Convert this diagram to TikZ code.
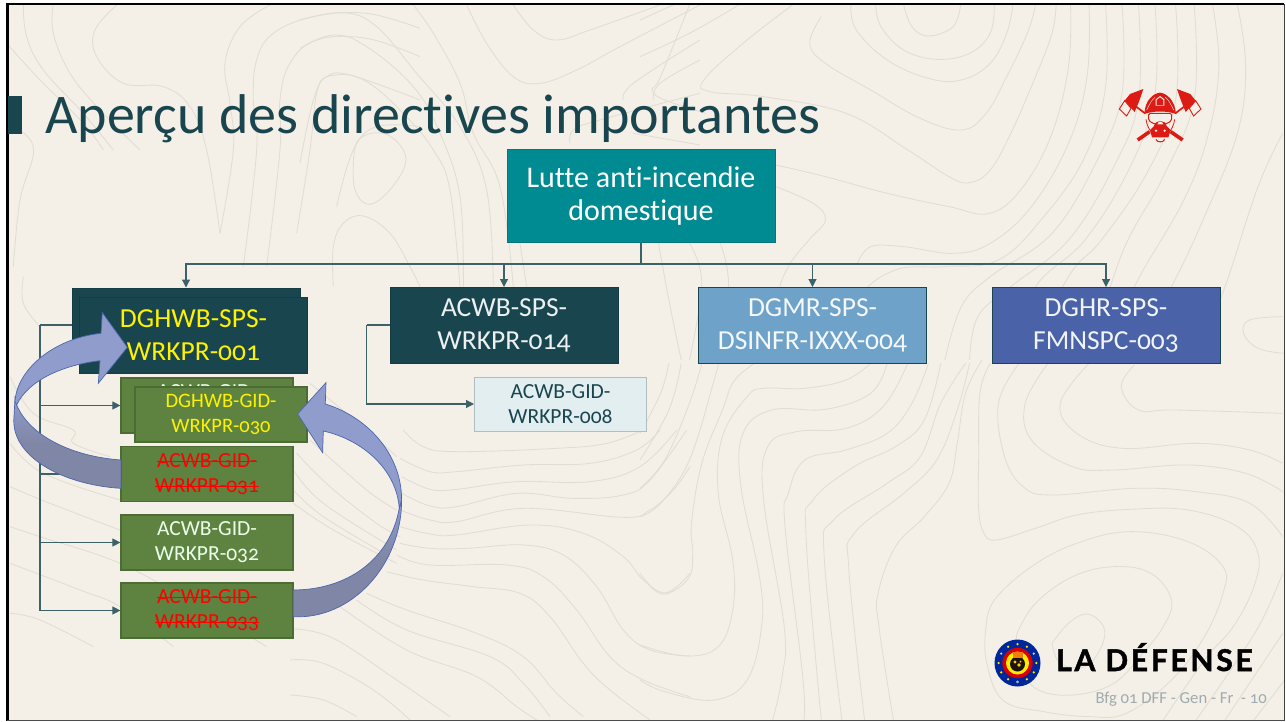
\documentclass[tikz,border=0pt]{standalone}
\usepackage{fontspec}
\setmainfont[Numbers=OldStyle,Ligatures=NoCommon]{Carlito}
\newfontfamily\defensefont[LetterSpace=9,BoldFeatures={FakeBold=1.6}]{Lato}
\usetikzlibrary{arrows.meta,shapes.geometric}
\definecolor{pagebg}{HTML}{F4F0E8}
\definecolor{topo}{HTML}{E0DDD5}
\definecolor{ink}{HTML}{19454F}
\definecolor{tealbox}{HTML}{008A92}
\definecolor{greenbox}{HTML}{5E8340}
\definecolor{greenline}{HTML}{4B6C34}
\definecolor{skybox}{HTML}{6FA2C8}
\definecolor{indigobox}{HTML}{4A62A8}
\definecolor{palebox}{HTML}{E3EEF0}
\definecolor{ribbonlight}{HTML}{8F9CCC}
\definecolor{ribbondark}{HTML}{8086A6}
\definecolor{ribbonline}{HTML}{4C66AE}
\definecolor{alarm}{HTML}{DC1C14}
\tikzset{
  contour/.style={draw=topo,line width=.85pt},
  conn/.style={draw=ink!85!white,line width=1.1pt},
  arrowed/.style={conn,-{Triangle[length=8pt,width=8pt]}},
  bigbox/.style={draw=ink,line width=1pt,minimum width=228pt,minimum height=76pt,inner sep=0pt,align=center,
     font=\fontsize{27.5}{33}\selectfont},
  darkbox/.style={bigbox,fill=ink,draw=ink!85!black,text=white!92!ink},
  smallbox/.style={draw=greenline,line width=1.2pt,fill=greenbox,minimum width=172pt,minimum height=55pt,inner sep=0pt,
     align=center,text=white!92!green,font=\fontsize{21.5}{25}\selectfont},
  ribbonup/.style={draw=ribbonline,line width=.7pt,fill=ribbonlight},
  ribbondown/.style={draw=ribbonline,line width=.7pt,top color=ribbonlight,bottom color=ribbondark,middle color=ribbondark}
}
\newcommand{\ct}[1]{\draw[contour] plot[smooth,tension=.65] coordinates {#1};}
\newsavebox{\strikebox}
\newcommand{\strike}[1]{\textcolor{red}{\sbox{\strikebox}{#1}\rlap{\raisebox{.26em}{\rule{\wd\strikebox}{.9pt}}}\usebox{\strikebox}}}
\begin{document}
\begin{tikzpicture}[x=1pt,y=-1pt]
\useasboundingbox (0,0) rectangle (1286,721);
\fill[white] (0,0) rectangle (1286,721);
\fill[pagebg] (7,4) rectangle (1284,720);
\begin{scope}
\clip (7,4) rectangle (1284,720);
% --- upper right
\begin{scope}[shift={(640,0)},xscale=.412,yscale=.3333]
\ct{(640,15)(660,80)(700,108)(760,80)(778,15)}
\ct{(572,15)(585,80)(640,150)(720,178)(800,160)(850,100)(860,15)}
\ct{(512,15)(525,90)(600,180)(700,235)(780,240)(850,190)(890,100)(905,15)}
\ct{(440,50)(412,130)(450,190)(560,270)(680,355)(780,390)(840,340)(890,230)(940,100)(960,15)}
\ct{(370,15)(250,130)(155,240)(170,275)(300,290)(500,340)(650,450)(750,530)(800,548)(850,510)(900,400)(960,230)(1000,100)(1010,15)}
\ct{(120,15)(50,230)(30,270)(60,300)(160,340)}
\ct{(330,495)(450,530)(600,580)(750,620)(850,640)(930,560)(1000,400)(1040,200)(1045,15)}
\ct{(330,560)(420,610)(450,660)(410,720)(360,800)(335,900)(345,1080)}
\ct{(528,790)(560,740)(640,740)(760,760)(850,730)(950,620)(1040,430)(1085,230)(1090,15)}
\ct{(500,1080)(530,900)(620,810)(740,800)(870,780)(980,650)(1080,470)(1130,260)(1130,15)}
\ct{(740,1080)(780,920)(850,830)(1000,700)(1110,480)(1170,280)(1170,15)}
\ct{(800,1080)(820,950)(900,860)(1040,720)(1150,500)(1210,300)(1210,15)}
\ct{(1250,15)(1250,280)(1190,500)(1080,720)(960,860)(880,1080)}
\ct{(1300,15)(1300,300)(1230,520)(1120,720)(1040,830)(940,1080)}
\ct{(1345,15)(1345,300)(1270,530)(1170,760)(1090,1080)}
\ct{(1390,15)(1405,200)(1380,400)(1320,600)(1200,860)(1130,1080)}
\ct{(1450,15)(1470,200)(1450,400)(1370,650)(1290,860)(1190,1080)}
\ct{(1560,400)(1500,560)(1420,860)(1350,1080)}
\ct{(1560,950)(1480,960)(1465,1000)(1500,1045)(1562,1060)}
\ct{(0,170)(120,100)(240,15)}
\ct{(0,60)(80,15)}
\ct{(45,730)(70,900)(100,1080)}
\ct{(120,730)(150,850)(120,1080)}
\ct{(195,730)(215,860)(190,1080)}
\end{scope}
% --- lower right
\begin{scope}[shift={(640,360)},xscale=.412,yscale=.3333]
\ct{(1000,850)(1040,790)(1085,762)(1125,800)(1120,860)(1080,920)(1020,910)(1000,850)}
\ct{(915,820)(960,730)(1050,650)(1150,620)(1240,640)(1290,720)(1270,800)(1220,880)(1150,970)(1050,1005)(960,985)(915,900)(915,820)}
\ct{(840,800)(860,720)(950,620)(1060,550)(1190,515)(1330,545)(1415,620)(1415,700)(1370,830)(1290,960)(1180,1060)(1090,1070)(980,1055)(880,1020)(840,900)(840,800)}
\ct{(1200,15)(1168,80)(1210,150)(1300,150)(1560,160)}
\ct{(1090,10)(1020,130)(1060,220)(1170,265)(1350,250)(1480,270)(1560,310)}
\ct{(990,10)(935,130)(950,240)(1050,320)(1150,330)(1330,315)(1470,340)(1560,395)}
\ct{(920,10)(870,130)(885,290)(930,380)(1000,405)(1200,385)(1350,395)(1480,430)(1560,530)}
\ct{(850,10)(825,100)(822,300)(822,450)(835,520)(865,540)(960,505)(1060,465)(1190,448)(1330,450)(1450,500)(1500,580)(1490,680)(1440,800)(1370,900)(1270,1080)}
\ct{(1560,640)(1510,780)(1450,900)(1350,1080)}
\ct{(1560,820)(1490,950)(1420,1080)}
\ct{(1565,960)(1490,1080)}
\ct{(0,640)(40,695)(75,697)(120,650)(128,580)(125,490)(150,310)(200,150)(230,60)(290,0)}
\ct{(0,855)(110,888)(190,860)(225,750)(225,600)(190,400)(200,230)(260,110)(300,85)(400,85)(500,60)(560,10)}
\ct{(0,960)(60,995)(180,1020)(260,960)(295,800)(290,650)(245,380)(250,220)(320,150)(450,148)(560,100)(600,10)}
\ct{(322,1080)(345,950)(350,800)(300,420)(310,260)(380,215)(500,205)(590,140)(650,10)}
\ct{(398,1080)(395,950)(352,500)(360,400)(400,300)(500,270)(600,220)(660,130)(700,10)}
\ct{(440,1080)(403,530)(420,420)(520,320)(620,260)(690,180)(730,10)}
\ct{(490,1080)(447,590)(470,480)(600,370)(680,290)(730,130)(790,10)}
\ct{(545,1080)(507,630)(520,520)(640,400)(720,300)(770,150)(800,10)}
\ct{(615,1080)(580,800)(578,700)(620,560)(690,470)(750,370)(770,250)(790,100)(830,0)}
\ct{(0,470)(50,430)(120,300)(180,60)(190,10)}
\ct{(0,385)(60,300)(120,130)(150,10)}
\ct{(0,300)(70,150)(100,10)}
\ct{(0,220)(50,100)(70,10)}
\end{scope}
% --- lower middle
\begin{scope}[shift={(290,430)},scale=.3333]
\ct{(340,0)(400,50)(500,65)(800,55)(950,40)(1060,0)}
\ct{(330,85)(420,125)(500,125)(700,105)(900,100)(1040,60)(1110,0)}
\ct{(335,140)(420,178)(500,178)(680,155)(900,155)(1050,110)(1160,0)}
\ct{(335,190)(420,228)(500,230)(680,190)(850,205)(1000,195)(1080,150)(1190,0)}
\ct{(330,240)(420,270)(500,275)(700,235)(1000,262)(1080,240)(1150,180)(1200,110)}
\ct{(330,290)(420,312)(500,315)(720,285)(880,310)(1000,380)(1060,450)(1130,488)(1200,430)}
\ct{(330,340)(420,355)(530,355)(700,345)(820,375)(920,470)(1000,600)(1080,660)(1200,678)}
\ct{(320,375)(420,405)(650,405)(760,440)(860,540)(960,680)(1060,750)(1200,800)}
\ct{(290,425)(400,450)(550,470)(690,490)(780,560)(880,700)(960,780)(1080,870)}
\ct{(230,490)(350,540)(560,610)(700,680)(800,790)(880,860)}
\ct{(200,510)(350,600)(600,680)(700,760)(780,860)}
\ct{(150,530)(350,660)(560,740)(680,830)(740,870)}
\ct{(10,597)(130,625)(320,750)(480,860)}
\ct{(0,690)(100,700)(250,780)(360,870)}
\ct{(0,795)(100,810)(200,860)}
\ct{(20,70)(120,170)(260,280)(330,320)}
\ct{(10,120)(100,220)(320,360)}
\ct{(10,180)(100,260)(300,380)}
\end{scope}
% --- top left
\begin{scope}[scale=.3333]
\ct{(70,15)(80,110)(130,210)(250,340)(340,450)}
\ct{(160,15)(160,100)(210,220)(300,330)(420,450)}
\ct{(350,15)(285,90)(290,170)(370,250)(490,260)(570,320)(620,450)(660,700)}
\ct{(810,15)(720,80)(675,190)(690,310)(700,450)(660,700)}
\ct{(1260,85)(1100,40)(940,50)(820,100)(770,180)(760,300)(770,450)(730,800)}
\ct{(1260,170)(1100,115)(950,120)(870,190)(840,300)(840,450)(800,800)}
\ct{(1260,300)(1050,225)(980,230)(950,280)(930,450)(890,700)}
\ct{(1260,380)(1130,380)(1060,450)(1010,620)}
\ct{(20,130)(120,240)(250,370)(310,450)}
\ct{(20,370)(100,440)(60,600)(40,800)}
\end{scope}
\begin{scope}[shift={(300,0)},scale=.3333]
\ct{(0,60)(130,38)(230,80)(350,220)(480,380)(560,570)(580,860)}
\ct{(0,145)(100,105)(200,140)(340,260)(420,400)(480,590)(490,860)}
\ct{(340,15)(400,100)(480,250)(520,400)(600,560)(640,860)}
\ct{(160,500)(175,420)(250,400)(310,450)(310,510)(250,590)(200,612)(165,570)(160,500)}
\ct{(0,490)(50,270)(110,225)(200,245)(310,340)(400,450)(450,570)(480,860)}
\ct{(100,860)(100,740)(130,670)(190,648)(270,700)(330,800)(360,860)}
\ct{(500,15)(560,130)(640,230)(720,250)(830,210)(960,140)(1200,15)}
\ct{(640,15)(700,90)(770,120)(870,90)(1080,15)}
\ct{(970,300)(1000,250)(1200,120)}
\ct{(1060,300)(1080,250)(1200,180)}
\ct{(810,430)(820,390)(900,360)(1200,280)}
\ct{(1000,400)(1200,435)}
\ct{(660,730)(680,860)}
\end{scope}
% --- left
\begin{scope}[shift={(0,270)},scale=.3333]
\ct{(70,20)(70,100)(120,170)}
\ct{(30,320)(100,430)(220,480)(220,520)(330,560)}
\ct{(30,520)(130,610)(360,690)}
\ct{(30,650)(150,700)(360,780)}
\ct{(30,770)(120,800)(360,880)(580,1000)(800,1130)}
\ct{(30,880)(240,960)(360,1010)(520,1130)}
\ct{(30,1030)(120,1050)(280,1130)}
\ct{(930,340)(1100,480)(1190,560)}
\ct{(930,510)(1100,660)(1190,720)}
\ct{(880,700)(1000,780)(1190,880)}
\end{scope}
\end{scope}
% --- frame
\draw[black,line width=3pt] (7,3.5) -- (7,721);
\draw[black,line width=2.4pt] (6,4) -- (1284,4);
\draw[black!75,line width=1pt] (1284,4) -- (1284,721);
\draw[black!70,line width=1.4pt] (7,720.5) -- (1284,720.5);
% --- title
\node[fill=ink,minimum width=14pt,minimum height=38pt,inner sep=0pt] (mark) at (15,115) {};
\node[anchor=base west,inner sep=0pt,text=ink,font=\fontsize{56}{60}\selectfont] (title) at (45,133) {Aperçu des directives importantes};
% --- boxes
\node[bigbox,fill=tealbox,draw=tealbox!70!ink,text=white,minimum width=268pt,minimum height=93pt,font=\fontsize{30}{33}\selectfont] (root) at (641,195.5) {Lutte anti-incendie\\domestique};
\node[darkbox] (sps1back) at (186,326) {};
\node[darkbox] (sps2) at (504,325.5) {ACWB-SPS-\\WRKPR-014};
\node[bigbox,fill=skybox,text=white!92!skybox] (sps3) at (812.5,325.5) {DGMR-SPS-\\DSINFR-IXXX-004};
\node[bigbox,fill=indigobox,text=white!92!indigobox] (sps4) at (1106,325.5) {DGHR-SPS-\\FMNSPC-003};
\node[smallbox,fill=palebox,draw=ink!35!white,text=ink,minimum height=54pt,line width=1pt] (gid8) at (560.5,404) {ACWB-GID-\\WRKPR-008};
\node[smallbox] (gid30back) at (207,405.5) {ACWB-GID-\\WRKPR-030};
\node[smallbox] (gid31) at (207,474) {\strike{ACWB-GID-}\\\strike{WRKPR-031}};
\node[smallbox] (gid32) at (207,542.5) {ACWB-GID-\\WRKPR-032};
\node[smallbox] (gid33) at (207,610.5) {\strike{ACWB-GID-}\\\strike{WRKPR-033}};
% --- connectors
\coordinate (bus) at (641,264);
\coordinate (trunk) at (40,325);
\coordinate (trunkb) at (366.5,325);
\draw[conn] (root.south) -- (bus);
\draw[arrowed] (bus) -| (sps1back.north);
\draw[arrowed] (bus) -| (sps2.north);
\draw[arrowed] (bus) -| (sps3.north);
\draw[arrowed] (bus) -| (sps4.north);
\draw[conn] (sps1back.west |- trunk) -- (trunk);
\draw[arrowed] (trunk) |- (gid30back.west);
\draw[arrowed] (trunk) |- (gid31.west);
\draw[arrowed] (trunk) |- (gid32.west);
\draw[arrowed] (trunk) |- (gid33.west);
\draw[conn] (sps2.west |- trunkb) -- (trunkb);
\draw[arrowed] (trunkb) |- (gid8.west);
% boxes on top of trunk
\node[darkbox,text=yellow] (sps1) at (193.5,335.5) {DGHWB-SPS-\\WRKPR-001};
\node[smallbox,text=yellow,font=\fontsize{20.5}{25}\selectfont] (gid30) at (221,414.5) {DGHWB-GID-\\WRKPR-030};
% --- curved ribbons
\begin{scope}[shift={(0,270)},scale=.3333]
\path[ribbondown] (50,405) .. controls (90,500) and (220,560) .. (363,570) -- (363,655) .. controls (190,645) and (30,560) .. (42,440) -- (45,385) -- cycle;
\path[ribbonup] (307,128) -- (382,232) -- (295,340) -- (300,272) .. controls (190,285) and (85,330) .. (50,405) -- (45,395) .. controls (50,300) and (160,205) .. (303,190) -- cycle;
\path[ribbondown] (1198,715) .. controls (1170,870) and (1040,960) .. (880,960) -- (880,1040) .. controls (1050,1050) and (1205,890) .. (1205,690) -- cycle;
\path[ribbonup] (893,432) -- (978,338) -- (976,402) .. controls (1100,440) and (1205,550) .. (1205,690) -- (1198,715) .. controls (1190,600) and (1090,510) .. (970,483) -- (968,548) -- cycle;
\end{scope}
% --- fire emblem
\begin{scope}[shift={(1100,80)},scale=.3333]
\foreach \m/\o in {1/0,-1/361}{
\begin{scope}[shift={(\o,0)},xscale=\m]
 \draw[alarm,line width=1.7pt] (98,72) -- (135,100);
 \draw[alarm,line width=3.6pt] (212,155) -- (248,180);
 \fill[alarm] (130,27) -- (90,42) -- (74,62) -- (104,96) -- (118,62) -- cycle;
 \draw[alarm,line width=.9pt,fill=pagebg] (74,62) -- (58,87) -- (80,108) -- (93,85) -- cycle;
\end{scope}}
\fill[alarm] (133,102) .. controls (135,60) and (160,40) .. (180,38) .. controls (200,40) and (225,60) .. (228,102) .. controls (200,92) and (160,92) .. (133,102) -- cycle;
\fill[pagebg] (167,77) -- (167,58) -- (180,48) -- (193,58) -- (193,77) -- cycle;
\fill[alarm] (170,75) -- (170,60) -- (180,52) -- (190,60) -- (190,75) -- cycle;
\draw[pagebg,line width=.4pt] (140,90) .. controls (150,70) and (155,60) .. (165,52);
\draw[pagebg,line width=.4pt] (221,90) .. controls (211,70) and (206,60) .. (196,52);
\draw[alarm,line width=1pt,fill=pagebg,rounded corners=1.6pt] (146,100) -- (215,100) -- (215,122) -- (198,132) -- (163,132) -- (146,122) -- cycle;
\fill[alarm] (162,138) .. controls (165,118) and (197,118) .. (200,138) -- (212,150) -- (205,172) -- (156,172) -- (150,150) -- cycle;
\fill[pagebg] (172,133) .. controls (175,122) and (187,122) .. (190,133) -- cycle;
\fill[pagebg] (168,152) circle (4) (194,152) circle (4);
\draw[alarm,line width=1pt] (168,178) .. controls (170,188) and (192,188) .. (194,178);
\draw[alarm,line width=.8pt] (138,118) .. controls (140,135) and (148,150) .. (158,162);
\draw[alarm,line width=.8pt] (224,118) .. controls (222,135) and (214,150) .. (204,162);
\end{scope}
% --- defence logo
\begin{scope}[shift={(1017.5,663)}]
\fill[blue!55!black!85!cyan] (0,0) ellipse (23 and 23.5);
\foreach \a in {0,30,...,330}{\fill[yellow!90!orange] (\a:18.8) circle (1.25);}
\fill[pagebg!70!blue] (0,19) circle (1.4);
\fill[red!85!black] (0,0) circle (15.2);
\fill[yellow!95!orange] (0,0) circle (11.5);
\fill[black!85!brown] (0,1) circle (7.5);
\fill[orange!75!brown] (-5,-11) rectangle (5,-5);
\fill[yellow!70!orange] (-2.5,-1) circle (1.6) (1.5,2) circle (1.8) (3,-1.5) circle (1);
\end{scope}
% --- wordmark and footer
\node[anchor=base west,inner sep=0pt,font=\fontsize{30}{32}\defensefont\bfseries\selectfont,text=black] (wordmark) at (1056,671) {LA DÉFENSE};
\node[anchor=base east,inner sep=0pt,font=\fontsize{16.7}{18}\selectfont,text=black!35!ink!40!white] (footer) at (1267,703) {Bfg 01 DFF - Gen - Fr~~- 10};
\end{tikzpicture}
\end{document}
